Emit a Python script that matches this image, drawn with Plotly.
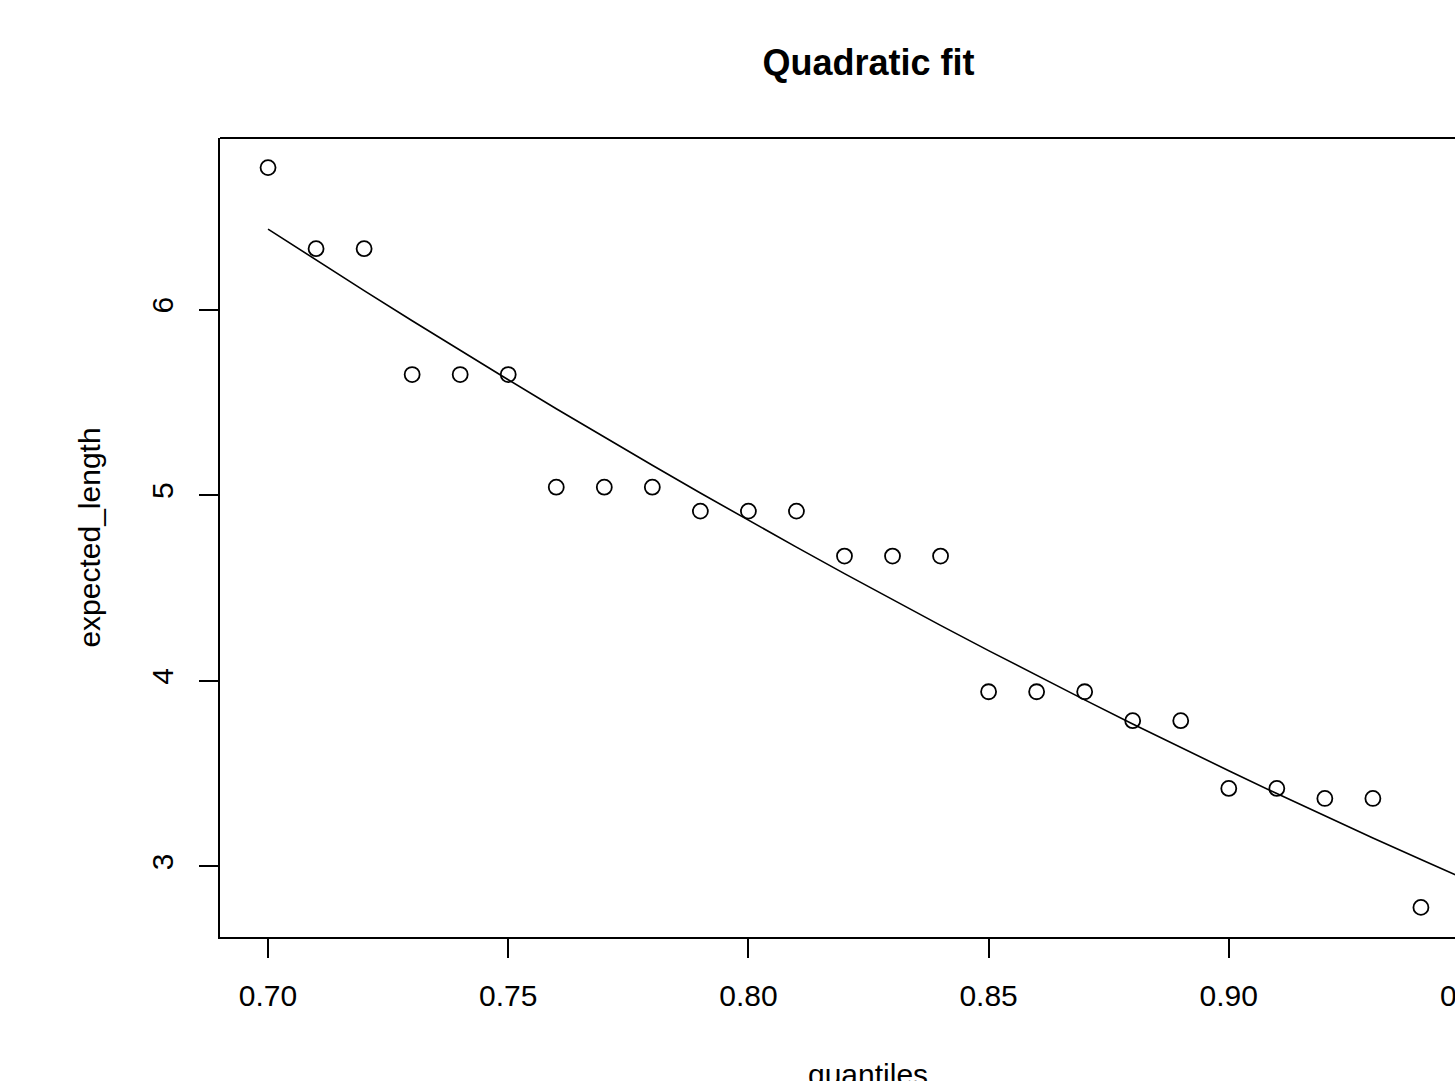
import numpy as np
import plotly.graph_objects as go

quantiles = [0.70, 0.71, 0.72, 0.73, 0.74, 0.75, 0.76, 0.77, 0.78, 0.79, 0.80, 0.81, 0.82,
             0.83, 0.84, 0.85, 0.86, 0.87, 0.88, 0.89, 0.90, 0.91, 0.92, 0.93, 0.94, 0.95]
expected_length = [6.765, 6.328, 6.328, 5.650, 5.650, 5.650, 5.043, 5.043, 5.043, 4.914,
                   4.914, 4.914, 4.672, 4.672, 4.672, 3.941, 3.941, 3.941, 3.785, 3.785,
                   3.420, 3.420, 3.366, 3.366, 2.779, 2.779]
x_ticks = [0.70, 0.75, 0.80, 0.85, 0.90, 0.95]
x_tick_labels = ["0.70", "0.75", "0.80", "0.85", "0.90", "0.95"]
y_ticks = [3, 4, 5, 6]

x = np.array(quantiles)
y = np.array(expected_length)
coef = np.polyfit(x, y, 2)
fit = np.polyval(coef, x)

# R-style axis range (4% extension)
xr = x.max() - x.min()
x_lo, x_hi_full = x.min() - 0.04 * xr, x.max() + 0.04 * xr
yr = y.max() - y.min()
y_lo, y_hi = y.min() - 0.04 * yr, y.max() + 0.04 * yr

W, H = 1455, 1081
ml, mt, mb = 220, 138, 144
full_plot_w = 1517 - 220  # original plot width (figure is cropped on the right)
vis_w = W - ml
x_hi = x_lo + (x_hi_full - x_lo) * vis_w / full_plot_w
x_center_full = (x_lo + x_hi_full) / 2

fig = go.Figure()
fig.add_trace(go.Scatter(x=quantiles, y=expected_length, mode="markers",
                         marker=dict(symbol="circle-open", size=15, color="black",
                                     line=dict(width=1.8)),
                         showlegend=False, cliponaxis=False))
fig.add_trace(go.Scatter(x=quantiles, y=fit, mode="lines",
                         line=dict(color="black", width=1.6), showlegend=False))

font = dict(family="Liberation Sans, Arial, sans-serif", color="black")


def to_paper(v):
    return (v - x_lo) / (x_hi - x_lo)


annotations = []
# tick labels that fall beyond the cropped right edge (partially visible)
for tv, tt in zip(x_ticks, x_tick_labels):
    if tv > x_hi:
        annotations.append(dict(text=tt, xref="paper", yref="paper",
                                x=to_paper(tv), y=0, yshift=-58,
                                xanchor="center", yanchor="middle", showarrow=False,
                                font=dict(**font, size=30)))
# x-axis title, centred on the full (uncropped) plot width
annotations.append(dict(text="quantiles", xref="paper", yref="paper",
                        x=to_paper(x_center_full), y=0, yshift=-137,
                        xanchor="center", yanchor="middle", showarrow=False,
                        font=dict(**font, size=30)))

fig.update_layout(
    width=W, height=H,
    margin=dict(l=ml, r=0, t=mt, b=mb, pad=0, autoexpand=False),
    plot_bgcolor="white", paper_bgcolor="white",
    font=dict(**font, size=30),
    title=dict(text="<b>Quadratic fit</b>", x=(ml + full_plot_w / 2) / W, xanchor="center",
               y=1 - 62 / H, yanchor="middle", font=dict(**font, size=36)),
    xaxis=dict(range=[x_lo, x_hi], tickvals=x_ticks, ticktext=x_tick_labels, automargin=False,
               showgrid=False, zeroline=False, showline=True, linecolor="black", linewidth=2,
               ticks="outside", ticklen=19, tickwidth=2, tickcolor="black",
               ticklabelstandoff=12,
               tickfont=dict(**font, size=30)),
    yaxis=dict(range=[y_lo, y_hi], tickvals=y_ticks, tickangle=-90, automargin=False,
               showgrid=False, zeroline=False, showline=True, linecolor="black", linewidth=2,
               ticks="outside", ticklen=19, tickwidth=2, tickcolor="black",
               ticklabelstandoff=14,
               tickfont=dict(**font, size=30),
               title=dict(text="expected_length", font=dict(**font, size=30), standoff=37)),
    shapes=[dict(type="line", xref="paper", yref="paper", x0=0, x1=1.01, y0=1, y1=1,
                 line=dict(color="black", width=2))],
    annotations=annotations,
)

fig.write_html("out.html", config={"displayModeBar": False},
               post_script="document.body.style.margin='0px';")
